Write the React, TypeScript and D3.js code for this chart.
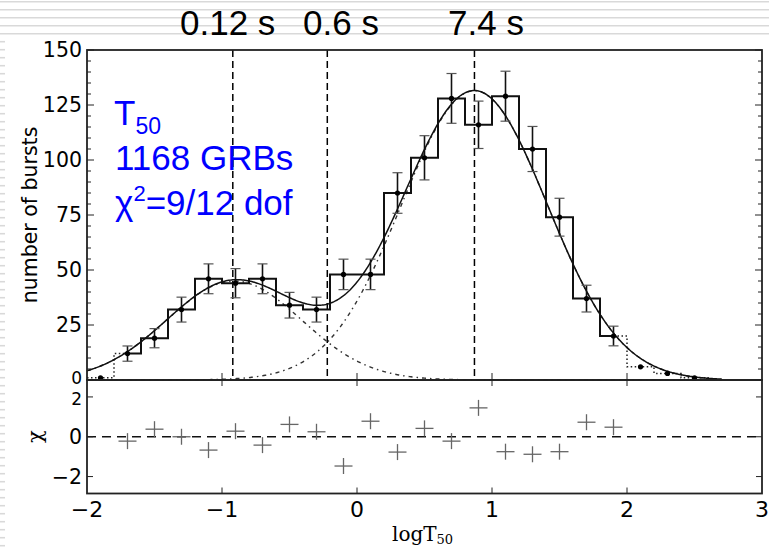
import React from "react";
import * as d3 from "d3";

// ---- data ----
const binCenters = [-1.9, -1.7, -1.5, -1.3, -1.1, -0.9, -0.7, -0.5, -0.3, -0.1, 0.1, 0.3, 0.5, 0.7, 0.9, 1.1, 1.3, 1.5, 1.7, 1.9, 2.1, 2.3, 2.5];
const binCounts = [1, 12, 19, 32, 46, 44, 46, 34, 32, 48, 48, 85, 101, 128, 116, 129, 105, 74, 37, 20, 6, 3, 1];
const fitFirst = -1.7; // first bin centre in fit range
const fitLast = 1.9;   // last bin centre in fit range
const chiResiduals = [-0.22, 0.38, 0.0, -0.67, 0.28, -0.42, 0.62, 0.25, -1.47, 0.78, -0.77, 0.42, -0.22, 1.45, -0.75, -0.88, -0.75, 0.73, 0.48];
// fitted two-lognormal model: [amplitude, mean(logT), sigma]
const shortComp = [45, -0.91, 0.5];
const longComp = [131.5, 0.87, 0.54];
const markerLines = [-0.92, -0.22, 0.87];
const topLabels = [
  { x: 180, text: "0.12 s" },
  { x: 303, text: "0.6 s" },
  { x: 448, text: "7.4 s" },
];
const yTicksTop = [0, 25, 50, 75, 100, 125, 150];
const yTicksChi = [-2, 0, 2];
const xTicks = [-2, -1, 0, 1, 2, 3];

const W = 769, H = 551;
const L = 87, R = 762, T1 = 50, B1 = 380, B2 = 493.5;
const BW = 0.2;

const gauss = (c: number[], x: number) => c[0] * Math.exp(-((x - c[1]) ** 2) / (2 * c[2] * c[2]));

export default function App() {
  const x = d3.scaleLinear().domain([-2, 3]).range([L, R]);
  const y = d3.scaleLinear().domain([0, 150]).range([B1, T1]);
  const yc = d3.scaleLinear().domain([-2.85, 2.85]).range([B2, B1]);

  const xs = d3.range(-2, 2.7001, 0.01);
  const line = d3.line<[number, number]>().x((d) => x(d[0])).y((d) => y(d[1]));
  const sumPath = line(xs.map((v) => [v, gauss(shortComp, v) + gauss(longComp, v)]))!;
  const shortPath = line(xs.map((v) => [v, gauss(shortComp, v)]))!;
  const longPath = line(xs.map((v) => [v, gauss(longComp, v)]))!;

  const bins = binCenters.map((c, i) => ({ c, n: binCounts[i] }));
  const inFit = (c: number) => c >= fitFirst - 1e-9 && c <= fitLast + 1e-9;
  const fitBins = bins.filter((b) => inFit(b.c));

  let solid = "";
  fitBins.forEach((b, i) => {
    const x0 = i === 0 ? b.c : b.c - BW / 2;
    const x1 = i === fitBins.length - 1 ? b.c : b.c + BW / 2;
    solid += (i === 0 ? `M${x(x0)},${y(b.n)}` : `L${x(x0)},${y(b.n)}`) + `L${x(x1)},${y(b.n)}`;
  });
  const leftBins = bins.filter((b) => b.c <= fitFirst + 1e-9);
  let dotL = "";
  leftBins.forEach((b, i) => {
    const x0 = b.c - BW / 2;
    const x1 = b.c === fitFirst ? b.c : b.c + BW / 2;
    dotL += (i === 0 ? `M${x(x0)},${y(b.n)}` : `L${x(x0)},${y(b.n)}`) + `L${x(x1)},${y(b.n)}`;
  });
  const rightBins = bins.filter((b) => b.c >= fitLast - 1e-9);
  let dotR = "";
  rightBins.forEach((b, i) => {
    const x0 = b.c === fitLast ? b.c : b.c - BW / 2;
    const x1 = b.c + BW / 2;
    dotR += (i === 0 ? `M${x(x0)},${y(b.n)}` : `L${x(x0)},${y(b.n)}`) + `L${x(x1)},${y(b.n)}`;
  });
  dotR += `L${x(rightBins[rightBins.length - 1].c + BW / 2)},${y(0)}`;

  const stripes = d3.range(0, 69).map((k) => 1.7 + 8 * k);
  const sans = "'DejaVu Sans', sans-serif";
  const arial = "'Liberation Sans', Arial, sans-serif";

  const minorTop = d3.range(0, 151, 5);

  return (
    <svg width={W} height={H} style={{ position: "fixed", left: 0, top: 0, background: "#fff" }}>
      <rect x={0} y={0} width={W} height={H} fill="#fff" />
      {stripes.map((s, k) =>
        k < 5 ? (
          <line key={k} x1={0} x2={W} y1={s} y2={s} stroke="#d9d9d9" strokeWidth={1.6} />
        ) : (
          <line key={k} x1={0} x2={5} y1={s} y2={s} stroke="#d9d9d9" strokeWidth={1.6} />
        )
      )}

      {topLabels.map((t) => (
        <text key={t.text} x={t.x} y={35} fontFamily={arial} fontSize={35} fill="#000">
          {t.text}
        </text>
      ))}

      <g>
        {markerLines.map((m) => (
          <line key={m} x1={x(m)} x2={x(m)} y1={T1} y2={B1} stroke="#000" strokeWidth={1.5} strokeDasharray="7,4" />
        ))}
        <path d={shortPath} fill="none" stroke="#333" strokeWidth={1.4} strokeDasharray="4,4,1.5,4" />
        <path d={longPath} fill="none" stroke="#333" strokeWidth={1.4} strokeDasharray="4,4,1.5,4" />
        <path d={dotL} fill="none" stroke="#222" strokeWidth={1.5} strokeDasharray="1.5,2.5" />
        <path d={dotR} fill="none" stroke="#222" strokeWidth={1.5} strokeDasharray="1.5,2.5" />
        <path d={solid} fill="none" stroke="#111" strokeWidth={2} />
        <path d={sumPath} fill="none" stroke="#111" strokeWidth={1.5} />
        {fitBins.map((b) => {
          const e = Math.sqrt(b.n);
          return (
            <g key={b.c}>
              <line x1={x(b.c)} x2={x(b.c)} y1={y(b.n - e)} y2={y(b.n + e)} stroke="#111" strokeWidth={1.6} />
              <line x1={x(b.c) - 5} x2={x(b.c) + 5} y1={y(b.n - e)} y2={y(b.n - e)} stroke="#555" strokeWidth={1.2} />
              <line x1={x(b.c) - 5} x2={x(b.c) + 5} y1={y(b.n + e)} y2={y(b.n + e)} stroke="#555" strokeWidth={1.2} />
            </g>
          );
        })}
        {bins.map((b) => (
          <circle key={b.c} cx={x(b.c)} cy={y(b.n)} r={2.6} fill="#000" />
        ))}
        {minorTop.map((v) => {
          const len = v % 25 === 0 ? 7 : 4;
          return (
            <g key={v}>
              <line x1={L} x2={L + len} y1={y(v)} y2={y(v)} stroke="#222" strokeWidth={1} />
              <line x1={R} x2={R - len} y1={y(v)} y2={y(v)} stroke="#222" strokeWidth={1} />
            </g>
          );
        })}
        {xTicks.slice(1, -1).map((v) => (
          <line key={v} x1={x(v)} x2={x(v)} y1={B1} y2={B1 - 7} stroke="#222" strokeWidth={1} />
        ))}
        <rect x={L} y={T1} width={R - L} height={B1 - T1} fill="none" stroke="#222" strokeWidth={1.8} />
        {yTicksTop.map((v) => (
          <text key={v} x={82} y={v === 0 ? y(v) - 2.5 : y(v)} dy="0.36em" textAnchor="end" fontFamily={sans} fontSize={v === 0 ? 17 : 20.5} fill="#000">
            {v}
          </text>
        ))}
        <text transform={`translate(37,215) rotate(-90)`} textAnchor="middle" fontFamily={sans} fontSize={20.5} fill="#000">
          number of bursts
        </text>
        <text x={114} y={125} fontFamily={arial} fontSize={35} fill="#0000ff">
          T<tspan fontSize={23} dy={9}>50</tspan>
        </text>
        <text x={115} y={170} fontFamily={arial} fontSize={35} fill="#0000ff">
          1168 GRBs
        </text>
        <text x={115} y={215} fontFamily={arial} fontSize={35} fill="#0000ff">
          χ<tspan fontSize={22} dy={-14}>2</tspan>
          <tspan dy={14}>=9/12 dof</tspan>
        </text>
      </g>

      <g>
        <line x1={L} x2={R} y1={yc(0)} y2={yc(0)} stroke="#111" strokeWidth={1.5} strokeDasharray="9,6" />
        {fitBins.map((b, i) => (
          <g key={b.c} stroke="#666" strokeWidth={1.3}>
            <line x1={x(b.c) - 9} x2={x(b.c) + 9} y1={yc(chiResiduals[i])} y2={yc(chiResiduals[i])} />
            <line x1={x(b.c)} x2={x(b.c)} y1={yc(chiResiduals[i]) - 8} y2={yc(chiResiduals[i]) + 8} />
          </g>
        ))}
        {yTicksChi.map((v) => (
          <g key={v}>
            <line x1={L} x2={L + 6} y1={yc(v)} y2={yc(v)} stroke="#222" strokeWidth={1} />
            <line x1={R} x2={R - 6} y1={yc(v)} y2={yc(v)} stroke="#222" strokeWidth={1} />
            <text x={82} y={v === 2 ? yc(v) + 1.5 : yc(v)} dy="0.36em" textAnchor="end" fontFamily={sans} fontSize={v === 2 ? 17 : 20.5} fill="#000">
              {v < 0 ? `\u2212${-v}` : v}
            </text>
          </g>
        ))}
        {xTicks.slice(1, -1).map((v) => (
          <g key={v}>
            <line x1={x(v)} x2={x(v)} y1={B1} y2={B1 + 6} stroke="#222" strokeWidth={1} />
            <line x1={x(v)} x2={x(v)} y1={B2} y2={B2 - 6} stroke="#222" strokeWidth={1} />
          </g>
        ))}
        <rect x={L} y={B1} width={R - L} height={B2 - B1} fill="none" stroke="#222" strokeWidth={1.8} />
        {xTicks.map((v) => (
          <text key={v} x={x(v)} y={B2 + 23} textAnchor="middle" fontFamily={sans} fontSize={22} fill="#000">
            {v < 0 ? `\u2212${-v}` : v}
          </text>
        ))}
        <text transform={`translate(42,${yc(0)}) rotate(-90)`} textAnchor="middle" fontFamily="'DejaVu Serif', serif" fontSize={21} fill="#000">
          χ
        </text>
        <text x={392} y={541} fontFamily="'DejaVu Serif', 'Liberation Serif', serif" fontSize={20} fill="#000">
          logT<tspan fontSize={13} dy={3}>50</tspan>
        </text>
      </g>
    </svg>
  );
}
